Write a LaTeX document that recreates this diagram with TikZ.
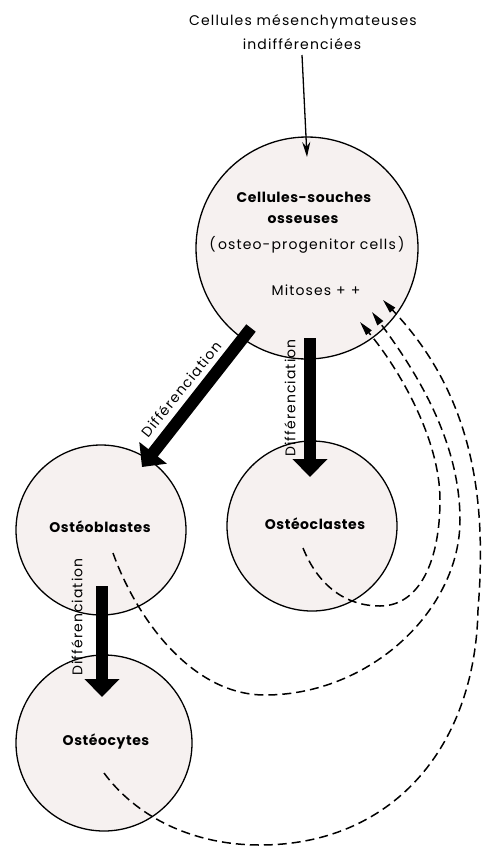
\documentclass[tikz,border=0pt]{standalone}
\usepackage{fontspec}
\setmainfont{Poppins}
\newfontfamily\spacedfont[LetterSpace=8]{Poppins}
\newfontfamily\spacedbold[LetterSpace=4]{Poppins Bold}
\usetikzlibrary{arrows.meta}
\definecolor{cellfill}{RGB}{246,241,240}
\begin{document}
\begin{tikzpicture}[x=1pt,y=-1pt,
 cell/.style={circle, draw, line width=1.3pt, fill=cellfill, inner sep=0pt},
 lbl/.style={font=\fontsize{14}{16}\spacedfont, inner sep=0pt},
 blbl/.style={font=\fontsize{14}{16}\spacedbold, inner sep=0pt},
 difflbl/.style={font=\fontsize{14}{16}\spacedfont, inner sep=0pt},
 bigarrow/.style={line width=12pt, -{Triangle[width=34pt,length=18pt]}},
 thinarrow/.style={line width=1.3pt, -{Stealth[width=8pt,length=15pt]}},
 feedback/.style={line width=1.5pt, dash pattern=on 9pt off 5pt, -{Triangle[width=7pt,length=14pt]}},
]
\useasboundingbox (0,0) rectangle (482,847);
% cells
\node[cell, minimum size=222pt] (stem) at (307,248) {};
\node[cell, minimum size=170pt] (blast) at (101,530) {};
\node[cell, minimum size=170pt] (clast) at (312,526) {};
\node[cell, minimum size=176pt] (cyte) at (104,743) {};
% texts
\node[lbl] (src1) at (303,22) {Cellules mésenchymateuses};
\node[lbl] (src2) at (302,44) {indifférenciées};
\node[blbl] (t1) at (304,197) {Cellules-souches};
\node[blbl] (t2) at (303,220) {osseuses};
\node[lbl] (t3) at (307,245) {(\,osteo-progenitor cells\,)};
\node[lbl] (t4) at (316,290) {Mitoses\hspace{5pt}+\hspace{5pt}+};
\node[blbl] (tb) at (100,527) {Ostéoblastes};
\node[blbl] (tc) at (315,524) {Ostéoclastes};
\node[blbl] (ty) at (106,742) {Ostéocytes};
% top arrow
\coordinate (topin) at (307,157);
\draw[thinarrow] (src2.south |- 0,55) -- (topin);
% differentiation arrows
\coordinate (a1s) at (251,328); \coordinate (a1e) at (142,467);
\coordinate (a2s) at (310,338); \coordinate (a2e) at (310,477);
\coordinate (a3s) at (102,586); \coordinate (a3e) at (102,697);
\draw[bigarrow] (a1s) -- (a1e);
\draw[bigarrow] (a2s) -- (a2e);
\draw[bigarrow] (a3s) -- (a3e);
\node[difflbl, rotate=51] (d1) at (181,389) {Différenciation};
\node[difflbl, rotate=90] (d2) at (290,398) {Différenciation};
\node[difflbl, rotate=90] (d3) at (77,617) {Différenciation};
% feedback dashed curves
\coordinate (fa) at (303,548); \coordinate (ta) at (360,322);
\coordinate (fb) at (113,553); \coordinate (tb2) at (372,312);
\coordinate (fc) at (104,773); \coordinate (tc2) at (383,300);
\draw[feedback] (fa) .. controls (318,585) and (345,606) .. (380,606)
  .. controls (420,606) and (440,560) .. (440,500)
  .. controls (440,440) and (400,370) .. (ta);
\draw[feedback] (fb) .. controls (135,615) and (190,695) .. (265,695)
  .. controls (370,695) and (460,610) .. (460,520)
  .. controls (460,440) and (415,370) .. (tb2);
\draw[feedback] (fc) .. controls (135,815) and (190,845) .. (260,845)
  .. controls (390,845) and (475,750) .. (478,610)
  .. controls (486,510) and (478,400) .. (tc2);
\end{tikzpicture}
\end{document}
